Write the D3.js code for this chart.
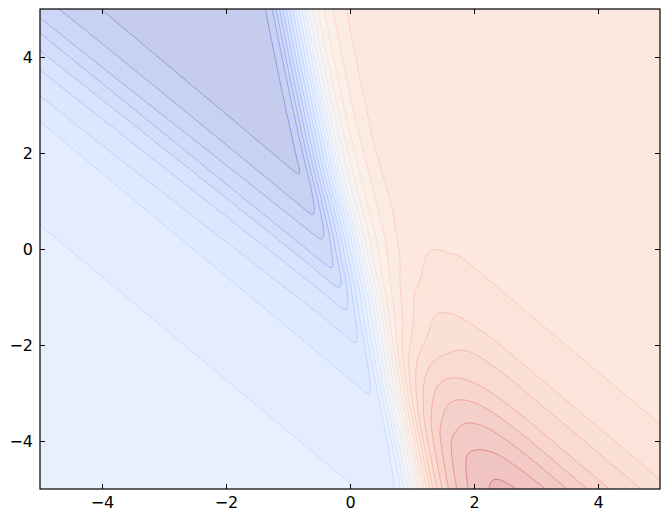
<!DOCTYPE html>
<html><head><meta charset="utf-8">
<script src="https://cdn.jsdelivr.net/npm/d3@7"></script>
<style>body{margin:0;background:#fff}svg{display:block}</style>
</head><body>
<svg id="chart" width="670" height="523"></svg>
<script>
// ---- tick labels ----
const xTicks = [-4, -2, 0, 2, 4];
const yTicks = [-4, -2, 0, 2, 4];
// ---- contour levels (level units, 0 = white) ----
const levels = d3.range(-12, 14);
const bandLow = -13, bandHigh = 14;
// ---- blue side far field: level value along q = x + 0.92*y ----
const blueZ      = [-3.4, -3.55, -3.75, -4, -4.38, -4.65, -5, -6, -7, -8, -9, -10, -11, -11.55, -11.85, -12, -12.05, -12.08, -12.1];
const blueQLeft  = [-10.5, -8, -6, -4.54, -3.5, -3.0, -2.55, -2.07, -1.57, -1.2, -0.86, -0.575, -0.11, 0.25, 0.45, 0.57, 0.62, 0.7, 10.5]; // read at the left edge
const blueQRight = [-10.5, -8, -6, -4.49, -3.5, -3.0, -2.5, -1.74, -1.27, -0.95, -0.7, -0.3, 0.03, 0.3, 0.47, 0.58, 0.63, 0.7, 10.5]; // read near the V vertices
// ---- red side far field ----
const redQ = [-10.5, -3, -2.5, -2.2, -2.02, -1.87, -1.45, -1.1, -0.77, -0.42, 0.1, 0.58, 1.1, 1.63, 2.2, 3, 4, 10.5];
const redZ = [13.95, 13.9, 13.78, 13.6, 13.38, 13, 12, 11, 10, 9, 8, 7, 6.4, 6, 5.93, 5.9, 5.88, 5.85];
// ---- centre line of the blue/red boundary ----
const centreY = [-5, -4, -2, 0, 1.5, 3.3, 5];
const centreX = [1.36, 1.19, 0.78, 0.26, -0.11, -0.43, -0.70];
// ---- cross-section of the boundary: share of the red field vs offset from centre ----
const crossS = [-8, -0.7, -0.66, -0.62, -0.58, -0.54, -0.5, -0.4, -0.3, -0.2, -0.1, 0, 0.1, 0.2, 0.3, 0.4, 0.5, 0.6, 0.7, 0.8, 0.9, 1.0, 1.15, 1.4, 8];
const crossT = [0, 0, 0.002, 0.012, 0.035, 0.07, 0.11, 0.21, 0.315, 0.425, 0.54, 0.65, 0.735, 0.8, 0.85, 0.89, 0.92, 0.944, 0.962, 0.975, 0.985, 0.991, 0.996, 1, 1];
// widening of the red half of the boundary lower down
const redWidthQ = [-3, -0.5, 1.0, 2.5];
const redWidth = [1.25, 1.25, 1.13, 1.0];

// coolwarm colour map (Moreland table)
const coolwarm = d3.piecewise(d3.interpolateRgb, [
 "rgb(59,76,192)","rgb(68,90,204)","rgb(77,104,215)","rgb(87,117,225)","rgb(98,130,234)","rgb(108,142,241)","rgb(119,154,247)","rgb(130,165,251)","rgb(141,176,254)","rgb(152,185,255)","rgb(163,194,255)","rgb(174,201,253)","rgb(184,208,249)","rgb(194,213,244)","rgb(204,217,238)","rgb(213,219,230)","rgb(221,221,221)","rgb(229,216,209)","rgb(236,211,197)","rgb(241,204,185)","rgb(245,196,173)","rgb(247,187,160)","rgb(247,177,148)","rgb(247,166,135)","rgb(244,154,123)","rgb(241,141,111)","rgb(236,127,99)","rgb(229,112,88)","rgb(222,96,77)","rgb(213,80,66)","rgb(203,62,56)","rgb(192,40,47)","rgb(180,4,38)"]);
const fillAlpha = 0.3;
const bandColor = k => d3.interpolateRgb("#ffffff", coolwarm((k + 0.5 - bandLow) / (bandHigh - bandLow)))(fillAlpha);
const lineColor = L => coolwarm((L - bandLow) / (bandHigh - bandLow));

// smooth monotone interpolation through the read-off profiles
function monotone(xs, ys) {
  const n = xs.length, d = [], m = new Array(n);
  for (let i = 0; i < n - 1; i++) d.push((ys[i + 1] - ys[i]) / (xs[i + 1] - xs[i]));
  m[0] = d[0]; m[n - 1] = d[n - 2];
  for (let i = 1; i < n - 1; i++) {
    const h0 = xs[i] - xs[i - 1], h1 = xs[i + 1] - xs[i];
    m[i] = d[i - 1] * d[i] <= 0 ? 0 : 3 * (h0 + h1) / ((2 * h1 + h0) / d[i - 1] + (h1 + 2 * h0) / d[i]);
  }
  return v => {
    if (v <= xs[0]) return ys[0];
    if (v >= xs[n - 1]) return ys[n - 1];
    const i = Math.min(n - 2, d3.bisectRight(xs, v) - 1);
    const h = xs[i + 1] - xs[i], t = (v - xs[i]) / h, t2 = t * t, t3 = t2 * t;
    return (2 * t3 - 3 * t2 + 1) * ys[i] + (t3 - 2 * t2 + t) * h * m[i]
         + (-2 * t3 + 3 * t2) * ys[i + 1] + (t3 - t2) * h * m[i + 1];
  };
}

const x = d3.scaleLinear().domain([-5, 5]).range([40, 660]);
const y = d3.scaleLinear().domain([-5, 5]).range([489, 9]);

const blueL = monotone(blueQLeft, blueZ);
const blueR = monotone(blueQRight, blueZ);
const blueMix = d3.scaleLinear().domain([-5, -0.5]).range([0, 1]).clamp(true);
const redF = monotone(redQ, redZ);
const centreF = monotone(centreY, centreX);
const crossF = monotone(crossS, crossT);
const widthF = d3.scaleLinear().domain(redWidthQ).range(redWidth).clamp(true);

// sample the field on a pixel grid slightly larger than the plot
const gx0 = 32, gy0 = 1, nx = 637, ny = 497;
const values = new Float64Array(nx * ny);
for (let j = 0; j < ny; j++) {
  const yd = y.invert(gy0 + j);
  const xc = centreF(yd);
  for (let i = 0; i < nx; i++) {
    const xd = x.invert(gx0 + i);
    const q = xd + 0.92 * yd;
    const s = xd - xc;
    const t = s > 0 ? crossF(s / widthF(q)) : crossF(s);
    const w = blueMix(xd);
    const b = blueL(q) * (1 - w) + blueR(q) * w;
    const r = redF(q);
    values[j * nx + i] = b + t * (r - b);
  }
}
if (typeof d3.blur2 === "function") d3.blur2({data: values, width: nx, height: ny}, 2);

const svg = d3.select("#chart");
svg.append("defs").append("clipPath").attr("id", "plotClip")
  .append("rect").attr("x", 40).attr("y", 9).attr("width", 620).attr("height", 480);

const path = d3.geoPath(d3.geoIdentity().translate([gx0 - 0.5, gy0 - 0.5]));
const contours = d3.contours().size([nx, ny]).thresholds(levels)(values);

const plot = svg.append("g").attr("clip-path", "url(#plotClip)");
plot.append("rect").attr("x", 40).attr("y", 9).attr("width", 620).attr("height", 480)
  .attr("fill", bandColor(bandLow));
plot.selectAll("path.band").data(contours).join("path")
  .attr("class", "band").attr("d", path).attr("fill", d => bandColor(d.value));
plot.selectAll("path.iso").data(contours).join("path")
  .attr("class", "iso").attr("d", path).attr("fill", "none")
  .attr("stroke", d => lineColor(d.value)).attr("stroke-opacity", 0.45).attr("stroke-width", 1);

// axes: ticks inside on all four sides
const font = "DejaVu Sans, sans-serif";
const gB = svg.append("g").attr("transform", "translate(0,489)")
  .call(d3.axisBottom(x).tickValues(xTicks).tickSize(-5).tickPadding(8));
const gT = svg.append("g").attr("transform", "translate(0,9)")
  .call(d3.axisTop(x).tickValues(xTicks).tickSize(-5).tickFormat(""));
const gL = svg.append("g").attr("transform", "translate(40,0)")
  .call(d3.axisLeft(y).tickValues(yTicks).tickSize(-5).tickPadding(7));
const gR = svg.append("g").attr("transform", "translate(660,0)")
  .call(d3.axisRight(y).tickValues(yTicks).tickSize(-5).tickFormat(""));
[gB, gT, gL, gR].forEach(g => {
  g.select(".domain").remove();
  g.selectAll(".tick line").attr("stroke", "#000").attr("stroke-width", 1);
  g.selectAll(".tick text").attr("fill", "#000").style("font-family", font).style("font-size", "16px");
});
svg.append("rect").attr("x", 40).attr("y", 9).attr("width", 620).attr("height", 480)
  .attr("fill", "none").attr("stroke", "#000").attr("stroke-width", 1.2);
</script>
</body></html>
